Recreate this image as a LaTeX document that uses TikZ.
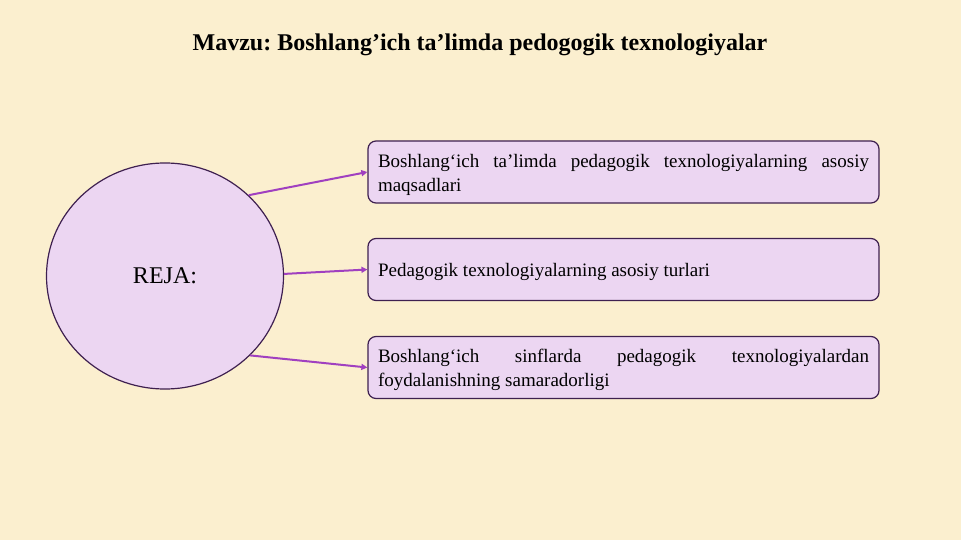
\documentclass[tikz,border=0pt]{standalone}
\usepackage{fontspec}
\setmainfont{Liberation Serif}
\usetikzlibrary{arrows.meta,shapes.geometric}
\hyphenpenalty=10000
\exhyphenpenalty=10000
\tolerance=9999
\frenchspacing
\definecolor{bgc}{HTML}{FBEFCF}
\definecolor{boxfill}{HTML}{ECD6F2}
\definecolor{boxline}{HTML}{3E2050}
\definecolor{arrc}{HTML}{A040C0}
\tikzset{
  itembox/.style={draw=boxline, fill=boxfill, line width=1.2pt, rounded corners=8pt,
    minimum width=511pt, minimum height=62pt, text width=491pt, align=justify,
    inner sep=0pt, font=\fontsize{19}{24}\selectfont,
    execute at end node={\par\vspace*{-5pt}}},
  arr/.style={draw=arrc, line width=2pt, -{Triangle[length=6pt,width=6pt]}},
}
\begin{document}
\begin{tikzpicture}[x=1pt,y=-1pt]
\fill[bgc] (0,0) rectangle (961,540);
\useasboundingbox (0,0) rectangle (961,540);
\node[font=\fontsize{24}{28}\selectfont\bfseries] (title) at (480,45) {Mavzu: Boshlang’ich ta’limda pedogogik texnologiyalar};
\node[ellipse, draw=boxline, fill=boxfill, line width=1.2pt, minimum width=237pt, minimum height=226pt,
  font=\fontsize{24}{28}\selectfont] (reja) at (165,276) {REJA:};
\node[itembox] (b1) at (623.5,172) {Boshlang‘ich ta’limda pedagogik texnologiyalarning asosiy maqsadlari};
\node[itembox] (b2) at (623.5,269.5) {Pedagogik texnologiyalarning asosiy turlari};
\node[itembox] (b3) at (623.5,367.5) {Boshlang‘ich sinflarda pedagogik texnologiyalardan foydalanishning samaradorligi};
\draw[arr] (reja.44) -- (b1.west);
\draw[arr] (reja.1) -- (b2.west);
\draw[arr] (reja.-43) -- (b3.west);
\end{tikzpicture}
\end{document}
